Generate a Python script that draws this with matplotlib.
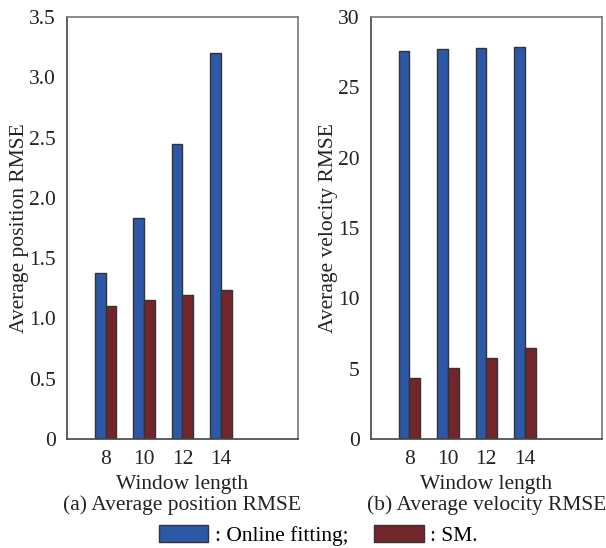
import numpy as np
import matplotlib.pyplot as plt
from matplotlib.patches import Patch

plt.rcParams['font.family'] = ['Liberation Serif', 'DejaVu Serif']
plt.rcParams['font.size'] = 15.5

# data
window = [8, 10, 12, 14]
pos_online = [1.38, 1.83, 2.45, 3.20]
pos_sm = [1.10, 1.15, 1.195, 1.235]
vel_online = [27.6, 27.7, 27.78, 27.87]
vel_sm = [4.36, 5.07, 5.78, 6.47]

blue = '#2D57A7'
red = '#72262A'
edge = '#333333'
w = 0.56

fig = plt.figure(figsize=(6.06, 5.48), dpi=100)
ax1 = fig.add_axes([0.1106, 0.1989, 0.381, 0.770])
ax2 = fig.add_axes([0.612, 0.1989, 0.381, 0.770])

x = np.array(window)

def draw(ax, online, sm, ylim, yticks, yticklabels, ylabel):
    ax.bar(x - w / 2, online, w, color=blue, edgecolor=edge, linewidth=1)
    ax.bar(x + w / 2, sm, w, color=red, edgecolor=edge, linewidth=1)
    ax.set_xlim(6, 18)
    ax.set_ylim(*ylim)
    ax.set_xticks(window)
    ax.set_yticks(yticks)
    ax.set_yticklabels(yticklabels)
    ax.tick_params(length=0, pad=8, colors='#222222')
    ax.set_xlabel('Window length', labelpad=4, color='#222222')
    ax.set_ylabel(ylabel, labelpad=0, color='#222222')
    for s in ['left', 'bottom']:
        ax.spines[s].set_color('#444444')
        ax.spines[s].set_linewidth(1.2)
    for s in ['top', 'right']:
        ax.spines[s].set_color('#777777')
        ax.spines[s].set_linewidth(1.2)

draw(ax1, pos_online, pos_sm, (0, 3.5),
     [0, 0.5, 1.0, 1.5, 2.0, 2.5, 3.0, 3.5],
     ['0', '0.5', '1.0', '1.5', '2.0', '2.5', '3.0', '3.5'],
     'Average position RMSE')
draw(ax2, vel_online, vel_sm, (0, 30),
     [0, 5, 10, 15, 20, 25, 30],
     ['0', '5', '10', '15', '20', '25', '30'],
     'Average velocity RMSE')

ax1.text(0.5, -0.157, '(a) Average position RMSE', transform=ax1.transAxes,
         ha='center', va='center', color='#222222')
ax2.text(0.5, -0.157, '(b) Average velocity RMSE', transform=ax2.transAxes,
         ha='center', va='center', color='#222222')

handles = [Patch(facecolor=blue, edgecolor=edge, linewidth=1),
           Patch(facecolor=red, edgecolor=edge, linewidth=1)]
fig.legend(handles, [': Online fitting;', ': SM.'], loc='center',
           bbox_to_anchor=(0.525, 0.0228), ncol=2, frameon=False,
           handlelength=2.3, handleheight=0.8, handletextpad=0.3,
           columnspacing=1.2, borderpad=0)

fig.savefig('out.png', dpi=100)
